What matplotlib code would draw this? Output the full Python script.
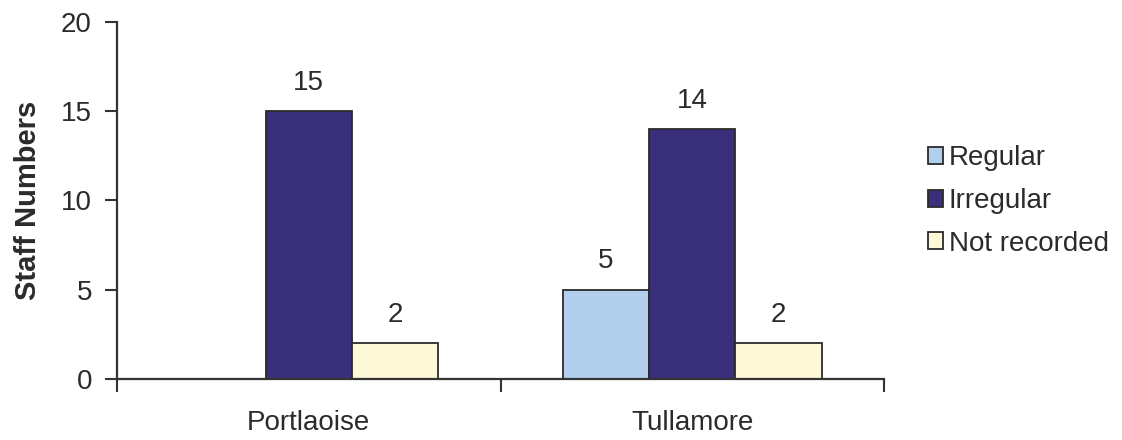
import numpy as np
import matplotlib.pyplot as plt

# staff numbers per site
sites = ["Portlaoise", "Tullamore"]
series = ["Regular", "Irregular", "Not recorded"]
regular = [0, 5]
irregular = [15, 14]
not_recorded = [2, 2]

colours = ["#b3cfee", "#3a2f7a", "#fdf8d8"]

plt.rcParams['font.family'] = ['Liberation Sans', 'DejaVu Sans']
txt = "#2b2b2b"
fs = 20

fig = plt.figure(figsize=(11.22, 4.40), dpi=100)
ax = fig.add_axes([117/1122, 1 - 379/440, (884 - 117)/1122, (379 - 22)/440])

x = np.arange(len(sites))
w = 0.225
bars = []
for i, (vals, name) in enumerate(zip([regular, irregular, not_recorded], series)):
    pos = x + (i - 1) * w
    b = ax.bar(pos, vals, w, color=colours[i], edgecolor="#2a2a2a",
               linewidth=1.3, label=name, zorder=2)
    bars.append(b)
    for p, v in zip(pos, vals):
        if v > 0:
            ax.annotate(str(v), (p, v), xytext=(0, 11), textcoords="offset points",
                        ha="center", va="bottom", fontsize=fs, color=txt)

ax.set_xlim(-0.5, 1.5)
ax.set_ylim(0, 20)
ax.set_yticks([0, 5, 10, 15, 20])
ax.set_xticks([-0.5, 0.5, 1.5])
ax.set_xticklabels([])
ax.set_xticks(x, minor=True)
ax.set_xticklabels(sites, minor=True)
ax.tick_params(axis="x", which="minor", length=0, pad=22, labelsize=fs, colors=txt)
ax.tick_params(axis="x", which="major", length=9, width=1.5, direction="out", color="#333333")
ax.tick_params(axis="y", length=9, width=1.5, direction="out", pad=9, labelsize=fs,
               colors=txt)
ax.tick_params(axis="y", color="#333333")

for s in ["top", "right"]:
    ax.spines[s].set_visible(False)
for s in ["left", "bottom"]:
    ax.spines[s].set_linewidth(1.6)
    ax.spines[s].set_color("#333333")

ax.set_ylabel("Staff Numbers", fontsize=21, fontweight="bold", color=txt, labelpad=14)

fig.legend(handles=bars, labels=series, loc="center left",
           bbox_to_anchor=(914/1122, 1 - 201/440), frameon=False,
           fontsize=fs, handlelength=0.55, handleheight=0.55, handletextpad=0.2,
           labelspacing=0.6, borderpad=0, labelcolor=txt)

fig.savefig("out.png", dpi=100)
